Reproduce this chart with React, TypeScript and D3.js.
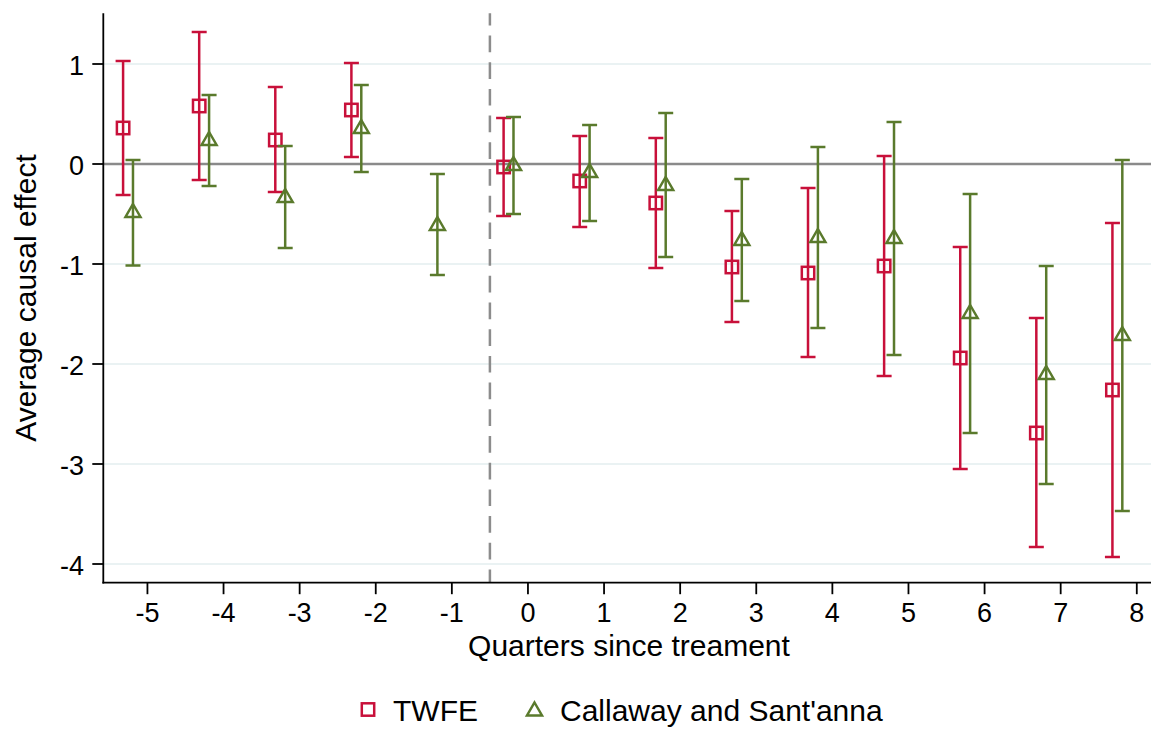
import React from "react";
import * as d3 from "d3";

const periods = [-5, -4, -3, -2, -1, 0, 1, 2, 3, 4, 5, 6, 7, 8];

// TWFE estimates (null = not estimated)
const twfeEst = [0.36, 0.58, 0.24, 0.54, null, -0.03, -0.17, -0.39, -1.03, -1.09, -1.02, -1.94, -2.69, -2.26];
const twfeLo = [-0.31, -0.16, -0.28, 0.07, null, -0.52, -0.63, -1.04, -1.58, -1.93, -2.12, -3.05, -3.83, -3.93];
const twfeHi = [1.03, 1.32, 0.77, 1.01, null, 0.46, 0.28, 0.26, -0.47, -0.24, 0.08, -0.83, -1.54, -0.59];

// Callaway and Sant'anna estimates
const csEst = [-0.47, 0.25, -0.32, 0.37, -0.6, 0.0, -0.07, -0.2, -0.75, -0.72, -0.73, -1.48, -2.09, -1.7];
const csLo = [-1.015, -0.22, -0.84, -0.08, -1.11, -0.5, -0.57, -0.93, -1.37, -1.64, -1.91, -2.69, -3.2, -3.47];
const csHi = [0.04, 0.69, 0.18, 0.79, -0.1, 0.47, 0.39, 0.51, -0.15, 0.17, 0.42, -0.3, -1.02, 0.04];

const xTicks = [-5, -4, -3, -2, -1, 0, 1, 2, 3, 4, 5, 6, 7, 8];
const yTicks = [1, 0, -1, -2, -3, -4];

const RED = "#C8103A";
const GREEN = "#5A7A2C";
const FONT = "'Liberation Sans', Arial, sans-serif";

export default function App() {
  const W = 1151;
  const H = 729;
  const x = d3.scaleLinear().domain([-5.58, 8.2]).range([103.3, 1152]);
  const y = d3.scaleLinear().domain([1.507, -4.187]).range([13.3, 582.7]);
  const left = x.range()[0];
  const right = W;
  const top = y.range()[0];
  const bottom = y.range()[1];
  const redOff = -0.32;
  const greenOff = -0.19;
  const cap = 7.5;

  const tri = (cx: number, cy: number) =>
    `M${cx},${cy - 7} L${cx + 7.5},${cy + 6} L${cx - 7.5},${cy + 6} Z`;

  return (
    <svg
      width={W}
      height={H}
      style={{ position: "absolute", left: 0, top: 0, display: "block", background: "#fff" }}
      fontFamily={FONT}
    >
      <rect x={0} y={0} width={W} height={H} fill="#fff" />
      {/* gridlines */}
      {yTicks.map((t) => (
        <line key={"g" + t} x1={left} x2={right} y1={y(t)} y2={y(t)} stroke="#EAF2F3" strokeWidth={2} />
      ))}
      {/* zero line */}
      <line x1={left} x2={right} y1={y(0)} y2={y(0)} stroke="#8A8A8A" strokeWidth={2.5} />
      {/* dashed vertical line */}
      <line
        x1={x(-0.5)}
        x2={x(-0.5)}
        y1={top}
        y2={bottom}
        stroke="#8C8C8C"
        strokeWidth={2.5}
        strokeDasharray="16.7,10"
        strokeDashoffset={4.5}
      />
      {/* TWFE */}
      {periods.map((p, i) => {
        if (twfeEst[i] === null) return null;
        const cx = x(p + redOff);
        return (
          <g key={"r" + p} stroke={RED} strokeWidth={2.5} fill="none">
            <line x1={cx} x2={cx} y1={y(twfeLo[i] as number)} y2={y(twfeHi[i] as number)} />
            <line x1={cx - cap} x2={cx + cap} y1={y(twfeLo[i] as number)} y2={y(twfeLo[i] as number)} />
            <line x1={cx - cap} x2={cx + cap} y1={y(twfeHi[i] as number)} y2={y(twfeHi[i] as number)} />
            <rect x={cx - 6.2} y={y(twfeEst[i] as number) - 6.2} width={12.4} height={12.4} />
          </g>
        );
      })}
      {/* Callaway and Sant'anna */}
      {periods.map((p, i) => {
        const cx = x(p + greenOff);
        return (
          <g key={"c" + p} stroke={GREEN} strokeWidth={2.5} fill="none">
            <line x1={cx} x2={cx} y1={y(csLo[i])} y2={y(csHi[i])} />
            <line x1={cx - cap} x2={cx + cap} y1={y(csLo[i])} y2={y(csLo[i])} />
            <line x1={cx - cap} x2={cx + cap} y1={y(csHi[i])} y2={y(csHi[i])} />
            <path d={tri(cx, y(csEst[i]))} strokeLinejoin="miter" />
          </g>
        );
      })}
      {/* axes */}
      <line x1={left} x2={left} y1={top} y2={bottom + 0.9} stroke="#000" strokeWidth={1.8} />
      <line x1={left - 0.9} x2={right} y1={bottom} y2={bottom} stroke="#000" strokeWidth={1.8} />
      {yTicks.map((t) => (
        <g key={"yt" + t}>
          <line x1={left - 11} x2={left} y1={y(t)} y2={y(t)} stroke="#000" strokeWidth={1.8} />
          <text x={84} y={y(t) + 10.5} fontSize={27} textAnchor="end" fill="#000">
            {t}
          </text>
        </g>
      ))}
      {xTicks.map((t) => (
        <g key={"xt" + t}>
          <line x1={x(t)} x2={x(t)} y1={bottom} y2={bottom + 11.5} stroke="#000" strokeWidth={1.8} />
          <text x={x(t)} y={622} fontSize={27} textAnchor="middle" fill="#000">
            {t}
          </text>
        </g>
      ))}
      {/* axis titles */}
      <text x={629} y={656} fontSize={30} textAnchor="middle" fill="#000">
        Quarters since treament
      </text>
      <text
        transform={`translate(36, ${(top + bottom) / 2}) rotate(-90)`}
        fontSize={30}
        textAnchor="middle"
        fill="#000"
      >
        Average causal effect
      </text>
      {/* legend */}
      <rect x={368 - 6.2} y={709.5 - 6.2} width={12.4} height={12.4} fill="none" stroke={RED} strokeWidth={2.5} />
      <text x={393} y={721} fontSize={30} fill="#000">
        TWFE
      </text>
      <path d={tri(534.5, 709.5)} fill="none" stroke={GREEN} strokeWidth={2.5} />
      <text x={560} y={721} fontSize={30} fill="#000">
        Callaway and Sant'anna
      </text>
    </svg>
  );
}
